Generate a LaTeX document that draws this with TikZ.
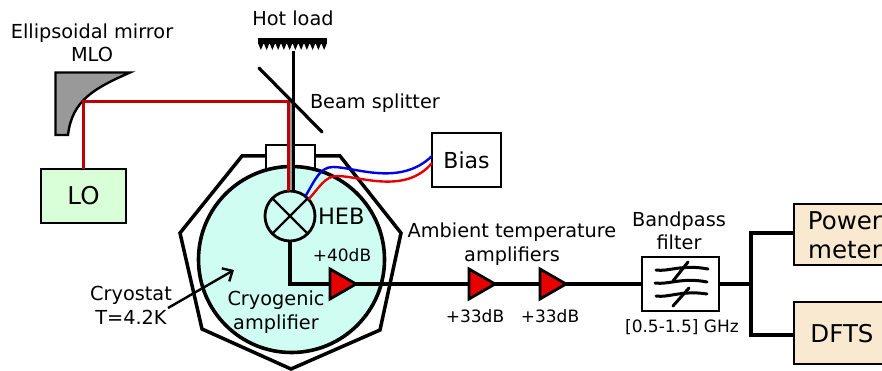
\documentclass[tikz,border=0pt]{standalone}
\usepackage{fontspec}
\setmainfont{DejaVu Sans}
\usetikzlibrary{shapes.geometric,arrows.meta}
\definecolor{cryo}{HTML}{D0FDF1}
\definecolor{logreen}{HTML}{D9FFD9}
\definecolor{tan}{HTML}{F8E9D0}
\definecolor{beamred}{HTML}{C00000}
\definecolor{ampred}{HTML}{E60000}
\definecolor{mirrorgrey}{HTML}{999999}
\tikzset{
  x=1pt,y=-1pt,outer sep=0pt,
  lbl/.style={font=\fontsize{19.3}{23.5}\selectfont,align=center,inner sep=0pt,text=black},
  small/.style={font=\fontsize{17}{21}\selectfont,align=center,inner sep=0pt,text=black},
  big/.style={font=\fontsize{24.5}{29}\selectfont,align=center,inner sep=0pt,text=black},
  mid/.style={font=\fontsize{22}{26}\selectfont,align=center,inner sep=0pt,text=black},
  wire/.style={line width=3.2pt,black},
  boxx/.style={draw=black,line width=2.7pt,inner sep=0pt,anchor=north west},
  amp/.style={draw=black,line width=2.8pt,fill=ampred,isosceles triangle,isosceles triangle apex angle=60,minimum height=26pt,minimum width=30pt,inner sep=0pt,anchor=apex,isosceles triangle stretches},
}
\begin{document}
\begin{tikzpicture}
\useasboundingbox (0,0) rectangle (882,371);
\clip (0,0) rectangle (882,371);
% cryostat outer
\draw[line width=3.5pt,line join=miter,fill=white] (266,156) -- (242,156) -- (180,233) -- (202,329) -- (291,369) -- (380,330) -- (401,233) -- (340,156) -- (315,156);
\draw[line width=2.8pt] (266,170) -- (266,145) -- (315,145) -- (315,170);
\node[circle,draw=black,line width=3.6pt,fill=cryo,minimum size=186pt,inner sep=0pt] (cryostat) at (291.5,259.5) {};
% hot load
\fill (258,38) rectangle (327,44);
\foreach \i in {0,...,11} \fill ({258+\i*5.75},43) -- ({258+\i*5.75+5.75},43) -- ({258+\i*5.75+2.87},50) -- cycle;
\coordinate (hot) at (293,51);
% mirror
\draw[line width=2.4pt,fill=mirrorgrey,line join=miter] (55.5,72.5) -- (130,72.5) .. controls (95,88) and (72,100) .. (68,135) -- (55.5,135) -- cycle;
% LO
\node[boxx,fill=logreen,minimum width=85pt,minimum height=54pt] (lo) at (41,169) {};
\node[big] at (lo.center) {LO};
% HEB
\node[circle,draw=black,line width=2.8pt,fill=cryo,minimum size=50pt,inner sep=0pt] (heb) at (290,216) {};
\draw[line width=2.4pt] (heb.45) -- (heb.225) (heb.135) -- (heb.315);
% beams
\coordinate (mc) at (83,102);
\coordinate (bc) at (288,102);
\draw[line width=2pt,mirrorgrey] (290.5,102) -- (290.5,190);
\draw[line width=3pt,beamred] (lo.north -| mc) -- (mc) -- (bc) -- (heb.north -| bc);
\draw[line width=3pt,black] (hot) -- (heb.north -| hot);
\coordinate (bs1) at (259,68); \coordinate (bs2) at (322,132);
\draw[wire,line cap=round] (bs1) -- (bs2);
% Bias
\node[boxx,fill=white,minimum width=69pt,minimum height=54pt] (bias) at (432,133) {};
\node[mid] at (bias.center) {Bias};
\draw[line width=2.4pt,blue!90!black] (heb.52) .. controls (315,180) and (320,167) .. (333,167) .. controls (355,167) and (400,187) .. (bias.west |- 0,156);
\draw[line width=2.4pt,red!90!black] (heb.42) .. controls (319,188) and (325,176) .. (337,176) .. controls (360,176) and (405,195) .. (bias.west |- 0,163);
% filter and signal chain
\node[boxx,fill=white,minimum width=77pt,minimum height=54pt] (filt) at (642,257) {};
\coordinate (sc) at (290,284);
\draw[wire,line join=miter] (heb.south) -- (sc) -- (filt.west);
\node[amp] (a1) at (356,284) {};
\node[amp] (a2) at (495,284) {};
\node[amp] (a3) at (566,284) {};
% filter glyph
\begin{scope}[line width=3pt,line cap=round]
\draw (656,270) .. controls (668,272) and (682,264) .. (708,269);
\draw (655,283) .. controls (668,285) and (682,277) .. (707,282);
\draw (656,296) .. controls (668,298) and (682,290) .. (707,294);
\draw (673,281) -- (688,262);
\draw (673,306) -- (689,288);
\end{scope}
% outputs
\node[boxx,fill=tan,minimum width=100pt,minimum height=61pt] (pm) at (794,204) {};
\node[boxx,fill=tan,minimum width=100pt,minimum height=62pt] (dfts) at (794,302) {};
\coordinate (j) at (751,284);
\draw[wire] (filt.east) -- (j);
\draw[wire,line join=miter] (pm.west |- 0,233) -| (j |- 0,335) -- (dfts.west |- 0,335);
% cryostat arrow
\coordinate (ca) at (168,308); \coordinate (cb) at (234,270);
\draw[line width=2.4pt,-{Straight Barb[length=8pt,width=15pt]}] (ca) -- (cb);
% labels
\node[lbl] at (92,43) {Ellipsoidal mirror\\MLO};
\node[lbl] at (293,18) {Hot load};
\node[lbl,anchor=west] at (310,103) {Beam splitter};
\node[mid,anchor=west,font=\fontsize{22.5}{27}\selectfont] at (318,216) {HEB};
\node[small] at (342,255) {+40dB};
\node[lbl] at (512,244) {Ambient temperature\\amplifiers};
\node[lbl] at (679,231) {Bandpass\\filter};
\node[small] at (475,316) {+33dB};
\node[small] at (550,316) {+33dB};
\node[small] at (682,327) {[0.5-1.5] GHz};
\node[lbl] at (131,305.5) {Cryostat\\T=4.2K};
\node[lbl] at (276,312) {Cryogenic\\amplifier};
\node[big,anchor=center] at (845,235.5) {Power\\meter};
\node[big] at (842,334) {DFTS};
\end{tikzpicture}
\end{document}
